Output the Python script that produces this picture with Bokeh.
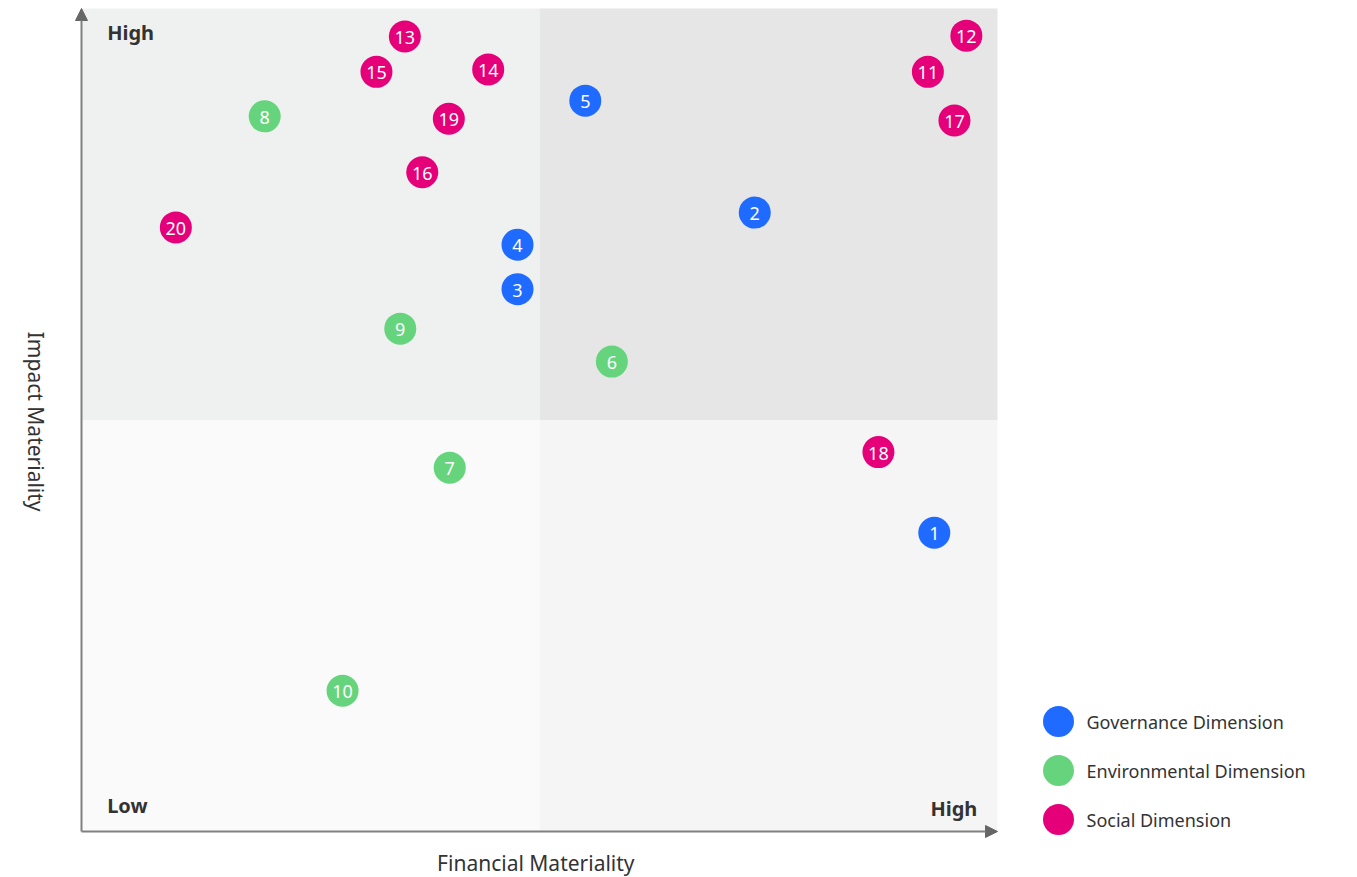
import math
from bokeh.plotting import figure
from bokeh.models import ColumnDataSource, Range1d, Label, Arrow, NormalHead
from bokeh.layouts import row
from bokeh.core.properties import value
from bokeh.embed import file_html
from bokeh.resources import INLINE

# ---- data ----
ids = ["1", "2", "3", "4", "5", "6", "7", "8", "9", "10",
       "11", "12", "13", "14", "15", "16", "17", "18", "19", "20"]
financial = [93.1, 73.5, 47.6, 47.6, 55.0, 57.9, 40.2, 20.0, 34.8, 28.5,
             92.4, 96.6, 35.3, 44.4, 32.2, 37.2, 95.3, 87.0, 40.1, 10.3]
impact = [36.3, 75.2, 65.9, 71.3, 88.8, 57.1, 44.2, 86.9, 61.1, 17.1,
          92.3, 96.7, 96.6, 92.6, 92.3, 80.1, 86.4, 46.1, 86.6, 73.4]
dimension = ["Governance", "Governance", "Governance", "Governance", "Governance",
             "Environmental", "Environmental", "Environmental", "Environmental", "Environmental",
             "Social", "Social", "Social", "Social", "Social",
             "Social", "Social", "Social", "Social", "Social"]
categories = ["Governance", "Environmental", "Social"]
legend_labels = ["Governance Dimension", "Environmental Dimension", "Social Dimension"]
cat_colors = {"Governance": "#1f6bff", "Environmental": "#66d47c", "Social": "#e5007a"}

# quadrants (x0, x1, y0, y1) on a 0-100 scale
q_left = [0, 50, 0, 50]
q_right = [50, 100, 50, 100]
q_bottom = [50, 50, 0, 0]
q_top = [100, 100, 50, 50]
q_fill = ["#eff1f0", "#e6e6e6", "#fafafa", "#f5f5f5"]

FONT = "Noto Sans"
TXT = "#333333"

# pixel geometry of the 0-100 data square inside a 1000x877 canvas
W, H = 1000, 877
PX0, PX1, PY_TOP, PY_BOT = 81, 997, 8, 831
sx = (PX1 - PX0) / 100.0
sy = (PY_BOT - PY_TOP) / 100.0
xr = Range1d(-PX0 / sx, (W - PX0) / sx)
yr = Range1d(-(H - PY_BOT) / sy, PY_BOT / sy)

p = figure(width=W, height=H, x_range=xr, y_range=yr,
           x_axis_type=None, y_axis_type=None, toolbar_location=None,
           output_backend="svg", min_border=0)
p.outline_line_color = None
p.grid.visible = False
p.background_fill_color = "white"
p.border_fill_color = "white"

p.quad(left=q_left, right=q_right, bottom=q_bottom, top=q_top,
       fill_color=q_fill, line_color=None)

colors = [cat_colors[d] for d in dimension]
src = ColumnDataSource(dict(x=financial, y=impact, id=ids, c=colors))
p.scatter("x", "y", source=src, size=32, fill_color="c", line_color=None)
p.text("x", "y", text="id", source=src, text_color="white",
       text_align="center", text_baseline="middle",
       text_font=value(FONT), text_font_size="18px", y_offset=1)

# axis arrows
for (xs, ys, xe, ye) in [(0, 0, 0, 100), (0, 0, 100, 0)]:
    p.add_layout(Arrow(end=NormalHead(size=12, fill_color="#666666", line_color="#666666"),
                       x_start=xs, y_start=ys, x_end=xe, y_end=ye,
                       line_color="#808080", line_width=2))

# corner labels
p.add_layout(Label(x=2.8, y=97.1, text="High", text_font=FONT, text_font_size="20px",
                   text_font_style="bold", text_color=TXT, text_baseline="middle"))
p.add_layout(Label(x=2.8, y=3.1, text="Low", text_font=FONT, text_font_size="20px",
                   text_font_style="bold", text_color=TXT, text_baseline="middle"))
p.add_layout(Label(x=97.8, y=2.8, text="High", text_font=FONT, text_font_size="20px",
                   text_font_style="bold", text_color=TXT, text_baseline="middle",
                   text_align="right"))

# axis titles
p.add_layout(Label(x=49.6, y=-3.8, text="Financial Materiality", text_font=FONT,
                   text_font_size="21px", text_color=TXT, text_align="center",
                   text_baseline="middle"))
p.add_layout(Label(x=-5.0, y=49.8, text="Impact Materiality", text_font=FONT,
                   text_font_size="21px", text_color=TXT, text_align="center",
                   text_baseline="middle", angle=-math.pi / 2))

# legend panel (pixel coordinates, y downwards)
LW = 357
leg = figure(width=LW, height=H, x_range=Range1d(0, LW), y_range=Range1d(H, 0),
             x_axis_type=None, y_axis_type=None, toolbar_location=None,
             output_backend="svg", min_border=0)
leg.outline_line_color = None
leg.grid.visible = False
leg.background_fill_color = "white"
leg.border_fill_color = "white"
ly = [721 + 49 * i for i in range(len(categories))]
lsrc = ColumnDataSource(dict(x=[58] * 3, tx=[86] * 3, y=ly, label=legend_labels,
                             c=[cat_colors[c] for c in categories]))
leg.scatter("x", "y", source=lsrc, size=31, fill_color="c", line_color=None)
leg.text("tx", "y", text="label", source=lsrc, text_color=TXT, text_baseline="middle",
         text_font=value(FONT), text_font_size="18px")

layout = row(p, leg, spacing=0)
open("out.html", "w").write(file_html(layout, INLINE))
